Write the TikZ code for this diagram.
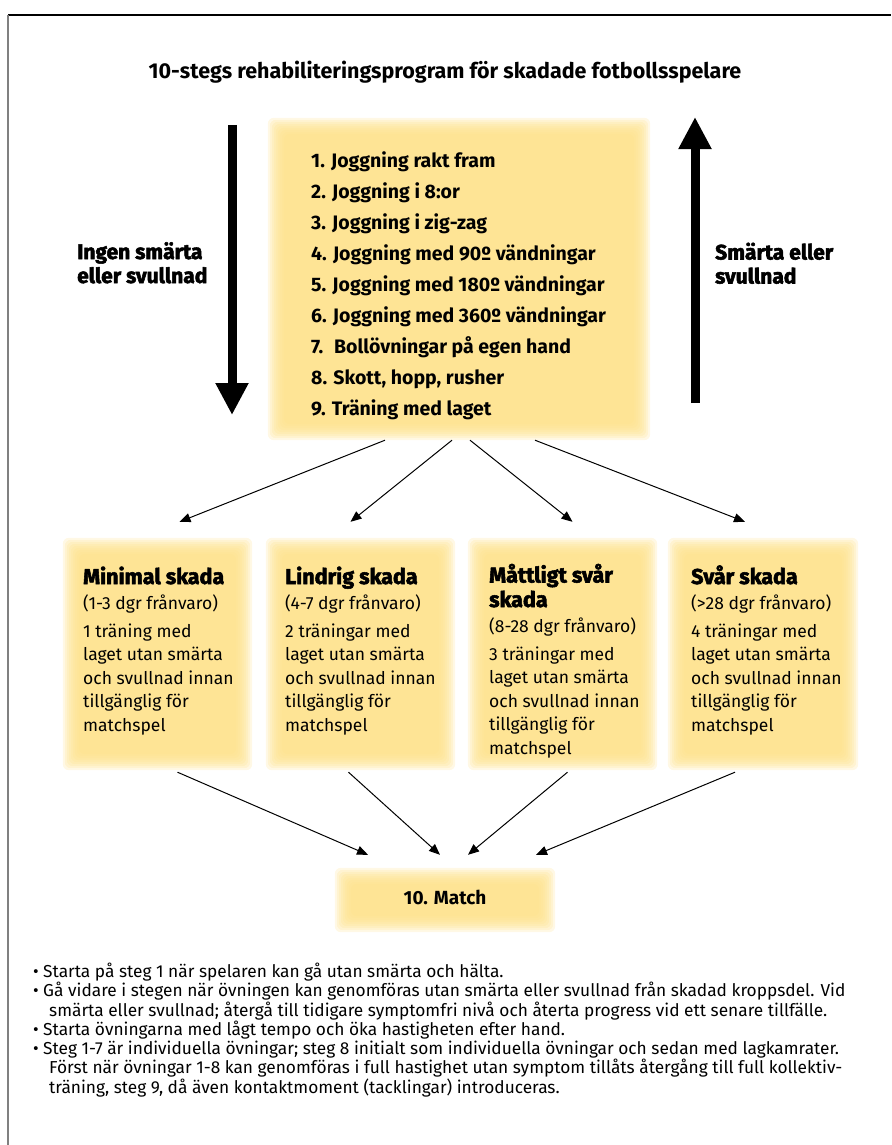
\documentclass[tikz,border=0pt]{standalone}
\usepackage{fontspec}
\setmainfont{Fira Sans}
\newfontfamily\heavy{Fira Sans}[BoldFeatures={FakeBold=2.5}]
\usetikzlibrary{calc,arrows.meta,backgrounds}
\definecolor{boxyellow}{RGB}{254,225,137}

\begin{document}
\begin{tikzpicture}[x=1pt,y=-1pt]
  \tikzset{box/.style={inner sep=0pt,minimum width=#1},
           item/.style={anchor=base west,inner sep=0pt,align=left},
           small arrow/.style={line width=1pt,arrows={-Triangle[length=11pt,width=9pt]}},
           fat arrow/.style={line width=9pt,arrows={-Triangle[length=32pt,width=31pt]}}};
  \useasboundingbox (0,0) rectangle (891,1145);
  \draw[line width=1.2pt] (8,15) -- (891,15);
  \draw[gray,line width=1.6pt] (8,15) -- (8,1145);
  \node[font=\bfseries\fontsize{21.5}{25}\selectfont] (title) at (445,72)
    {10-stegs rehabiliteringsprogram för skadade fotbollsspelare};
  % boxes
  \node[box=382pt,minimum height=322pt] (steps) at (459,279) {};
  \node[box=189pt,minimum height=232pt] (minimal) at (157.5,654) {};
  \node[box=189pt,minimum height=232pt] (lindrig) at (360.5,654) {};
  \node[box=189pt,minimum height=232pt] (mattligt) at (562.5,654) {};
  \node[box=190pt,minimum height=232pt] (svar) at (763,654) {};
  \node[box=220pt,minimum height=64pt] (match) at (445,900) {};
  \begin{scope}[on background layer]
    \foreach \n in {steps,minimal,lindrig,mattligt,svar,match}
      \foreach \i in {0,2,...,16}
        \fill[boxyellow,opacity=.22,rounded corners=6pt]
          ([shift={(\i,\i)}]\n.north west) rectangle ([shift={(-\i,-\i)}]\n.south east);
  \end{scope}
  % step list
  \node[item,font=\bfseries\fontsize{19.5}{31}\selectfont] (list) at (311,415)
    {1. Joggning rakt fram\\2. Joggning i 8:or\\3. Joggning i zig-zag\\
     4. Joggning med 90º vändningar\\5. Joggning med 180º vändningar\\
     6. Joggning med 360º vändningar\\7.~ Bollövningar på egen hand\\
     8. Skott, hopp, rusher\\9. Träning med laget};
  \node[item,font=\heavy\bfseries\fontsize{21}{24}\selectfont] (ingen) at (77,283)
    {Ingen smärta\\eller svullnad};
  \node[item,font=\heavy\bfseries\fontsize{21}{24}\selectfont] (smarta) at (715,283.5)
    {Smärta eller\\svullnad};
  \draw[fat arrow] (232,125) -- (232,415);
  \draw[fat arrow] (695,403) -- (695,117);
  % injury levels
  \node[item,font=\fontsize{17.5}{23.5}\selectfont] (t1) at (83,731)
    {{\heavy\bfseries\fontsize{21.5}{25}\selectfont Minimal skada}\\[2pt](1-3 dgr frånvaro)\\[4pt]
     1 träning med\\laget utan smärta\\och svullnad innan\\tillgänglig för\\matchspel};
  \node[item,font=\fontsize{17.5}{23.5}\selectfont] (t2) at (285,731)
    {{\heavy\bfseries\fontsize{21.5}{25}\selectfont Lindrig skada}\\[2pt](4-7 dgr frånvaro)\\[4pt]
     2 träningar med\\laget utan smärta\\och svullnad innan\\tillgänglig för\\matchspel};
  \node[item,font=\fontsize{17.5}{23.5}\selectfont] (t3) at (489,754)
    {{\heavy\bfseries\fontsize{21.5}{25}\selectfont Måttligt svår}\\[1pt]
     {\heavy\bfseries\fontsize{21.5}{25}\selectfont skada}\\[2pt](8-28 dgr frånvaro)\\[4pt]
     3 träningar med\\laget utan smärta\\och svullnad innan\\tillgänglig för\\matchspel};
  \node[item,font=\fontsize{17.5}{23.5}\selectfont] (t4) at (691,731)
    {{\heavy\bfseries\fontsize{21.5}{25}\selectfont Svår skada}\\[2pt](>28 dgr frånvaro)\\[4pt]
     4 träningar med\\laget utan smärta\\och svullnad innan\\tillgänglig för\\matchspel};
  \node[font=\bfseries\fontsize{19}{22}\selectfont] (m) at (445,897) {10. Match};
  % connectors
  \draw[small arrow] ($(steps.south)+(-74,0)$) -- ($(minimal.north)+(22,-16)$);
  \draw[small arrow] ($(steps.south)+(-7,0)$) -- ($(lindrig.north)+(-10,-16)$);
  \draw[small arrow] ($(steps.south)+(11,0)$) -- ($(mattligt.north)+(10,-16)$);
  \draw[small arrow] ($(steps.south)+(76,0)$) -- ($(svar.north)+(-18,-16)$);
  \draw[small arrow] ($(minimal.south)+(20,2)$) -- ($(match.north)+(-77,-13)$);
  \draw[small arrow] ($(lindrig.south)+(-12,2)$) -- ($(match.north)+(-5,-13)$);
  \draw[small arrow] ($(mattligt.south)+(5,2)$) -- ($(match.north)+(23,-13)$);
  \draw[small arrow] ($(svar.south)+(-28,2)$) -- ($(match.north)+(91,-13)$);
  % notes
  \foreach \y [count=\i] in {977,996.5,1035,1054}
    \node[item,font=\fontsize{17.3}{19.3}\selectfont] (dot\i) at (33,\y) {•};
  \node[item,font=\fontsize{17.3}{19.3}\selectfont] (n1) at (43,977)
    {Starta på steg 1 när spelaren kan gå utan smärta och hälta.};
  \node[item,font=\fontsize{17.3}{19.3}\selectfont] (n2) at (43,1016)
    {Gå vidare i stegen när övningen kan genomföras utan smärta eller svullnad från skadad kroppsdel. Vid\\
     \hspace*{6pt}smärta eller svullnad; återgå till tidigare symptomfri nivå och återta progress vid ett senare tillfälle.};
  \node[item,font=\fontsize{17.3}{19.3}\selectfont] (n3) at (43,1035)
    {Starta övningarna med lågt tempo och öka hastigheten efter hand.};
  \node[item,font=\fontsize{17.3}{19.3}\selectfont] (n4) at (43,1093)
    {Steg 1-7 är individuella övningar; steg 8 initialt som individuella övningar och sedan med lagkamrater.\\
     \hspace*{6pt}Först när övningar 1-8 kan genomföras i full hastighet utan symptom tillåts återgång till full kollektiv-\\
     \hspace*{6pt}träning, steg 9, då även kontaktmoment (tacklingar) introduceras.};
\end{tikzpicture}
\end{document}
